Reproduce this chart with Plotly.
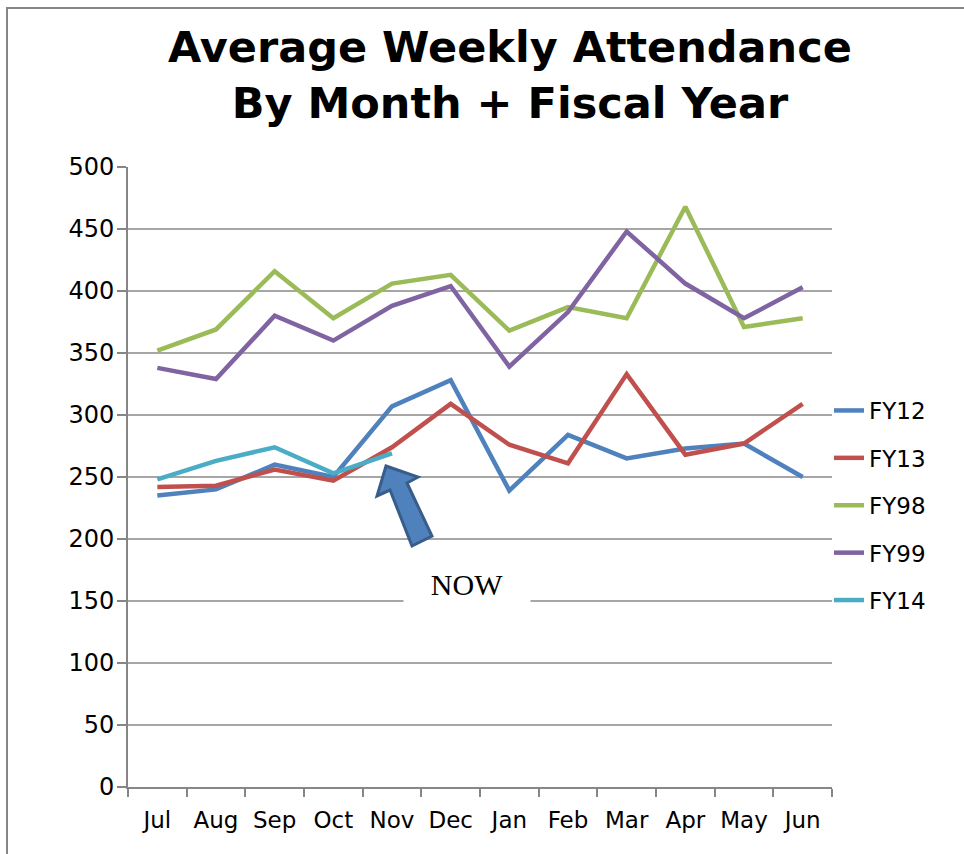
import plotly.graph_objects as go

months = ["Jul", "Aug", "Sep", "Oct", "Nov", "Dec", "Jan", "Feb", "Mar", "Apr", "May", "Jun"]
fy12 = [235, 240, 260, 250, 307, 328, 239, 284, 265, 273, 277, 250]
fy13 = [242, 243, 256, 247, 274, 309, 276, 261, 333, 268, 277, 309]
fy98 = [352, 369, 416, 378, 406, 413, 368, 387, 378, 468, 371, 378]
fy99 = [338, 329, 380, 360, 388, 404, 339, 383, 448, 406, 378, 403]
fy14 = [248, 263, 274, 253, 269]

series = [
    ("FY12", fy12, "#4F81BD"),
    ("FY13", fy13, "#C0504D"),
    ("FY98", fy98, "#9BBB59"),
    ("FY99", fy99, "#8064A2"),
    ("FY14", fy14, "#4BACC6"),
]

W, H = 964, 854
L, R, T, B = 128, 132, 167, 67
PW, PH = W - L - R, H - T - B

def px(x, y):
    return (x - L) / PW, (H - B - y) / PH

fig = go.Figure()
for name, vals, col in series:
    fig.add_trace(go.Scatter(
        x=months[:len(vals)], y=vals, name=name, mode="lines",
        line=dict(color=col, width=4.5), legendgroup=name,
    ))

# arrow shape (pixel outline converted to paper coords)
arrow_px = [(386, 466), (418, 477), (407, 483), (432, 536), (412, 546), (390, 490), (377, 496)]
pts = [px(a, b) for a, b in arrow_px]
path = "M " + " L ".join(f"{a:.4f},{b:.4f}" for a, b in pts) + " Z"
fig.add_shape(type="path", xref="paper", yref="paper", path=path,
              fillcolor="#4F81BD", line=dict(color="#385D8A", width=3))

# chart border
bx0, by0 = px(7, 870)
bx1, by1 = px(975, 8)
fig.add_shape(type="rect", xref="paper", yref="paper", x0=bx0, y0=by0, x1=bx1, y1=by1,
              line=dict(color="#868686", width=2), fillcolor="rgba(0,0,0,0)", layer="below")

nx, ny = px(467, 584)
fig.add_annotation(xref="paper", yref="paper", x=nx, y=ny, text="NOW", showarrow=False,
                   font=dict(family="Liberation Serif", size=30, color="black"),
                   bgcolor="white", width=124, height=46, xanchor="center", yanchor="middle")

tx, ty = px(510, 20)
fig.add_annotation(xref="paper", yref="paper", x=tx, y=ty, showarrow=False,
                   text="<b>Average Weekly Attendance<br>By Month + Fiscal Year</b>",
                   font=dict(family="DejaVu Sans", size=43, color="black"),
                   xanchor="center", yanchor="top", align="center")

fig.update_layout(
    width=W, height=H,
    margin=dict(l=L, r=R, t=T, b=B),
    paper_bgcolor="white", plot_bgcolor="white",
    font=dict(family="DejaVu Sans", size=24, color="black"),
    showlegend=True,
    legend=dict(x=px(829, 0)[0], xanchor="left", y=px(0, 389)[1], yanchor="top",
                font=dict(family="DejaVu Sans", size=23), tracegroupgap=14.5,
                bgcolor="rgba(0,0,0,0)", traceorder="grouped"),
    xaxis=dict(type="category", showline=True, linecolor="#868686", linewidth=2,
               ticks="outside", ticklen=8, tickcolor="#868686", tickwidth=2,
               tickson="boundaries", showgrid=False, range=[-0.5, 11.5],
               tickfont=dict(size=23), tickangle=0, automargin=False,
               ticklabelstandoff=11),
    yaxis=dict(range=[0, 500], dtick=50, showline=True, linecolor="#868686", linewidth=2,
               ticks="outside", ticklen=9, tickcolor="#868686", tickwidth=2,
               showgrid=True, gridcolor="#A6A6A6", gridwidth=2, zeroline=False,
               tickfont=dict(size=24), automargin=False, ticklabelstandoff=-2),
)

fig.write_html("out.html", config={"displayModeBar": False},
               post_script="document.body.style.margin='0';")
